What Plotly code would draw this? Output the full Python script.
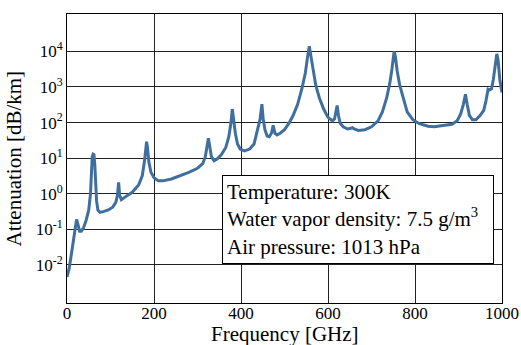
import plotly.graph_objects as go

freq_ghz = [0, 5, 10, 15, 19, 22, 25, 29, 33, 38, 44, 50, 54, 56, 58, 60, 62, 64, 66, 68, 71, 76,
            85, 95, 105, 112, 116, 118.7, 121, 125, 135, 150, 165, 173, 178, 181, 183, 185, 188, 193,
            200, 210, 220, 240, 260, 280, 300, 312, 318, 322, 325, 328, 332, 338, 345, 355, 365, 372,
            377, 380, 383, 387, 392, 398, 408, 420, 430, 437, 440, 444, 448, 451, 455, 460, 465, 470,
            474, 478, 483, 490, 500, 510, 520, 530, 540, 548, 553, 557, 561, 566, 572, 580, 590, 600,
            610, 615, 619, 621, 624, 628, 635, 645, 652, 656, 660, 670, 685, 700, 715, 725, 735, 742,
            747, 750, 752, 755, 759, 765, 773, 782, 795, 810, 830, 845, 852, 858, 870, 885, 897, 905,
            911, 916, 920, 925, 932, 940, 950, 958, 963, 968, 972, 976, 980, 984, 988, 991, 995, 1000]
attenuation_db_km = [0.0046, 0.008, 0.02, 0.05, 0.11, 0.19, 0.14, 0.089, 0.089, 0.11, 0.18, 0.35, 1.0, 4,
                     11, 13, 12.6, 6.3, 1.6, 0.63, 0.35, 0.30,
                     0.32, 0.35, 0.42, 0.56, 0.9, 2.1, 0.9, 0.68, 0.83, 1.1, 1.8, 3.2, 8, 20, 29, 20, 8, 4,
                     2.8, 2.3, 2.3, 2.6, 3.2, 4, 5.2, 7, 11, 22, 36, 22, 11, 8.5, 9.5, 12.6, 20, 40,
                     100, 240, 126, 50, 25, 18, 16, 18, 25, 63, 90, 126, 330, 126, 63, 42, 40, 50,
                     83, 50, 45, 50, 63, 95, 160, 320, 890, 2500, 7000, 14000, 7000, 2800, 1100, 500, 240, 140,
                     112, 126, 220, 300, 160, 95, 76, 66, 69, 72, 66, 60, 63, 76, 112, 200, 500, 1260,
                     3200, 7000, 10000, 7000, 2800, 1100, 450, 200, 120, 93, 79, 76, 79, 81, 83, 89, 112, 174,
                     320, 620, 320, 160, 120, 120, 160, 220, 400, 870, 830, 890, 1600, 4000, 8500, 5600, 1600, 700]

x_ticks = [0, 200, 400, 600, 800, 1000]
y_tick_vals = [1e-2, 1e-1, 1e0, 1e1, 1e2, 1e3, 1e4]
y_tick_text = ["10<sup>-2</sup>", "10<sup>-1</sup>", "10<sup>0</sup>", "10<sup>1</sup>",
               "10<sup>2</sup>", "10<sup>3</sup>", "10<sup>4</sup>"]
info_lines = ["Temperature: 300K", "Water vapor density: 7.5 g/m<sup>3</sup>", "Air pressure: 1013 hPa"]
x_title = "Frequency [GHz]"
y_title = "Attenuation [dB/km]"

FONT = "Liberation Serif"

fig = go.Figure()
fig.add_trace(go.Scatter(x=freq_ghz, y=attenuation_db_km, mode="lines",
                         line=dict(color="#3f6f9f", width=3), showlegend=False))

fig.update_layout(
    width=521, height=345,
    margin=dict(l=67, r=19, t=14, b=42),
    paper_bgcolor="white", plot_bgcolor="white",
    font=dict(family=FONT, size=17, color="black"),
    xaxis=dict(range=[0, 1000], tickvals=x_ticks, showgrid=True, gridcolor="#222", gridwidth=1,
               showline=True, linecolor="black", linewidth=1, mirror=True, ticks="", zeroline=False,
               automargin=False, tickfont=dict(size=17), ticklabelstandoff=-5),
    yaxis=dict(type="log", range=[-3.07, 5.05], tickvals=y_tick_vals, ticktext=y_tick_text,
               showgrid=True, gridcolor="#222", gridwidth=1, automargin=False, tickfont=dict(size=17),
               showline=True, linecolor="black", linewidth=1, mirror=True, ticks="", zeroline=False),
)

fig.add_annotation(xref="paper", yref="paper", x=0.5, y=-31 / 289, xanchor="center", yanchor="middle",
                   text=x_title, showarrow=False, font=dict(family=FONT, size=21, color="black"))
fig.add_annotation(xref="paper", yref="paper", x=-54 / 435, y=0.5, xanchor="center", yanchor="middle",
                   text=y_title, textangle=-90, showarrow=False,
                   font=dict(family=FONT, size=21, color="black"))

fig.add_annotation(
    xref="paper", yref="paper", x=155 / 435, y=128 / 289, xanchor="left", yanchor="top",
    text="<br>".join(info_lines), align="left", showarrow=False, width=262,
    font=dict(family=FONT, size=21, color="black"),
    bgcolor="white", bordercolor="black", borderwidth=1, borderpad=4,
)

fig.write_html("out.html")
